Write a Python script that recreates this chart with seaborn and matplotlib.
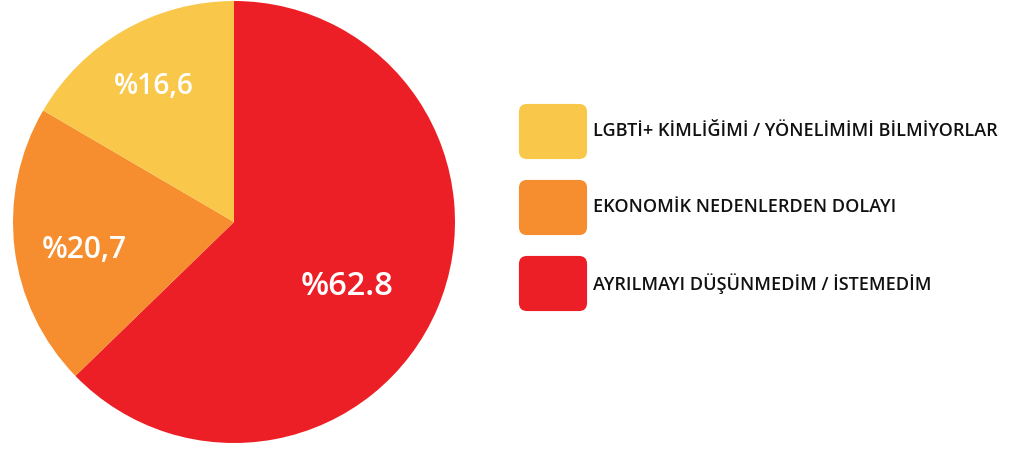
import matplotlib
matplotlib.use("Agg")
import matplotlib.pyplot as plt
from matplotlib.patches import FancyBboxPatch
import seaborn as sns

categories = ["AYRILMAYI DÜŞÜNMEDİM / İSTEMEDİM",
              "EKONOMİK NEDENLERDEN DOLAYI",
              "LGBTİ+ KİMLİĞİMİ / YÖNELİMİMİ BİLMİYORLAR"]
values = [62.8, 20.7, 16.6]
value_labels = ["%62.8", "%20,7", "%16,6"]
colors = ["#ED1F26", "#F68D2E", "#F9C74A"]

legend_order = [2, 1, 0]

sns.set_theme(style="white")
plt.rcParams['font.family'] = ['Open Sans', 'DejaVu Sans']

W, H = 1014, 449
fig = plt.figure(figsize=(W / 100, H / 100), dpi=100)

# pie axes: center (234,222), radius 221 px
cx, cy, r = 234, 222, 221
ax = fig.add_axes([(cx - r) / W, (H - cy - r) / H, 2 * r / W, 2 * r / H])
wedges, _ = ax.pie(values, colors=colors, startangle=90, counterclock=False,
                   radius=1, wedgeprops=dict(linewidth=0, edgecolor="none"))
ax.set_xlim(-1, 1)
ax.set_ylim(-1, 1)
ax.set_aspect("equal")
ax.axis("off")

label_pos = [(0.511, -0.292), (-0.679, -0.128), (-0.362, 0.612)]
label_sizes = [23.5, 21.5, 20.3]
for (x, y), t, s in zip(label_pos, value_labels, label_sizes):
    ax.text(x, y, t, ha="center", va="center", color="white",
            fontsize=s, fontweight="semibold")

# legend
box_x, box_w, box_h = 519, 68, 55
box_tops = [104, 180, 256]
for top, idx in zip(box_tops, legend_order):
    patch = FancyBboxPatch(((box_x + 5) / W, (H - top - box_h + 5) / H),
                           (box_w - 10) / W, (box_h - 10) / H,
                           boxstyle="round,pad=0.005,rounding_size=0.008",
                           transform=fig.transFigure, facecolor=colors[idx],
                           edgecolor="none", mutation_aspect=W / H)
    fig.add_artist(patch)
    fig.text(593 / W, (H - top - box_h / 2) / H, categories[idx],
             ha="left", va="center", fontsize=12.97, fontweight="semibold",
             color="#111111")

fig.savefig("out.png", dpi=100)
